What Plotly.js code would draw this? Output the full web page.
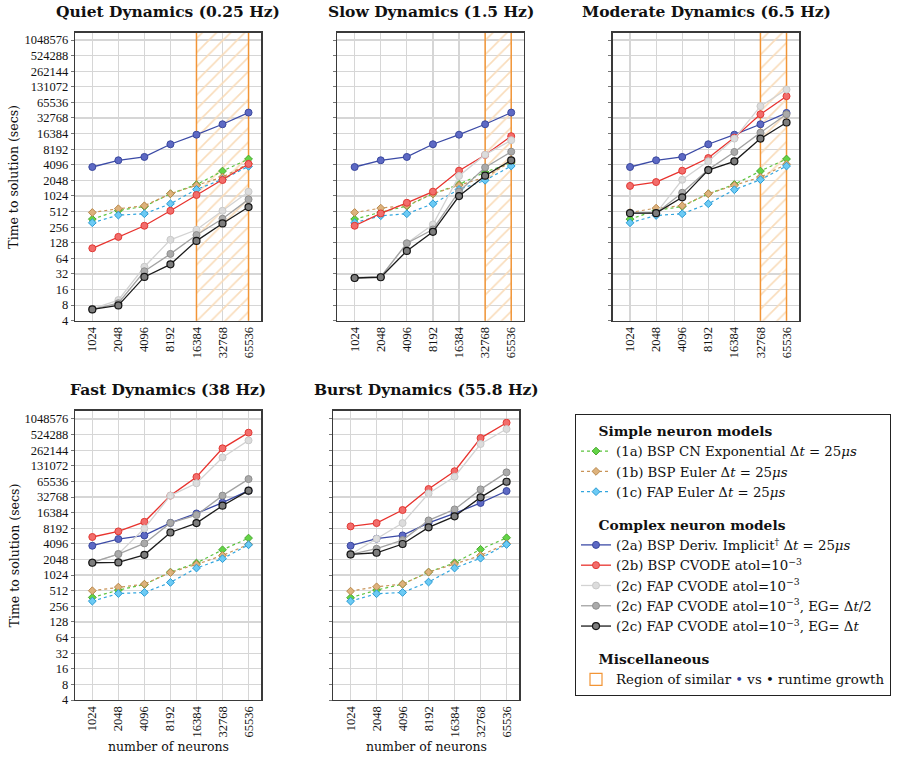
<!DOCTYPE html>
<html>
<head>
<meta charset="utf-8">
<script src="https://cdn.plot.ly/plotly-3.0.1.min.js"></script>
<style>html,body{margin:0;padding:0;background:#fff;}#chart{width:907px;height:759px;}</style>
</head>
<body>
<div id="chart"></div>
<script>
// ---------- DATA ----------
const neurons = [1024, 2048, 4096, 8192, 16384, 32768, 65536];
const neuronLabels = ["1024", "2048", "4096", "8192", "16384", "32768", "65536"];
const yTickVals = [4, 8, 16, 32, 64, 128, 256, 512, 1024, 2048, 4096, 8192, 16384, 32768, 65536, 131072, 262144, 524288, 1048576];
const panelTitles = ["Quiet Dynamics (0.25 Hz)", "Slow Dynamics (1.5 Hz)", "Moderate Dynamics (6.5 Hz)", "Fast Dynamics (38 Hz)", "Burst Dynamics (55.8 Hz)"];
const seriesNames = [
  "(1a) BSP CN Exponential Δ<i>t</i> = 25<i>μs</i>",
  "(1b) BSP Euler Δ<i>t</i> = 25<i>μs</i>",
  "(1c) FAP Euler Δ<i>t</i> = 25<i>μs</i>",
  "(2a) BSP Deriv. Implicit<sup>†</sup> Δ<i>t</i> = 25<i>μs</i>",
  "(2b) BSP CVODE atol=10<sup>−3</sup>",
  "(2c) FAP CVODE atol=10<sup>−3</sup>",
  "(2c) FAP CVODE atol=10<sup>−3</sup>, EG= Δ<i>t</i>/2",
  "(2c) FAP CVODE atol=10<sup>−3</sup>, EG= Δ<i>t</i>"
];
const groupTitles = ["Simple neuron models", "Complex neuron models", "Miscellaneous"];
const regionLabel = "Region of similar <span style='color:#2f3f9e'>•</span> vs • runtime growth";
// region of similar runtime growth per panel (start, end); null = none
const regionStart = [16384, 32768, 32768, null, null];
const regionEnd = [65536, 65536, 65536, null, null];

// Quiet Dynamics (0.25 Hz)
const quiet1a = [365, 537, 643, 1130, 1690, 3100, 5290];
const quiet1b = [491, 580, 662, 1130, 1640, 2370, 4300];
const quiet1c = [311, 437, 464, 724, 1370, 2130, 3820];
const quiet2a = [3710, 5000, 5800, 10200, 15600, 24800, 41700];
const quiet2b = [100, 166, 272, 530, 1070, 2080, 4240];
const quiet2c = [6.8, 10, 44, 146, 228, 530, 1240];
const quiet2cHalf = [6.6, 8.7, 36, 78, 180, 372, 880];
const quiet2cFull = [6.6, 7.9, 28, 49, 139, 302, 625];
// Slow Dynamics (1.5 Hz)
const slow1a = [365, 498, 652, 1130, 1710, 2960, 4480];
const slow1b = [491, 596, 671, 1130, 1640, 2370, 4640];
const slow1c = [311, 425, 464, 724, 1370, 2050, 3870];
const slow2a = [3710, 5000, 5800, 10200, 15600, 24800, 41700];
const slow2b = [272, 471, 756, 1240, 3150, 6340, 14600];
const slow2c = [27, 28, 125, 288, 2490, 6420, 12200];
const slow2cHalf = [27, 28, 125, 231, 1250, 3640, 7330];
const slow2cFull = [26.7, 27.6, 89, 208, 1020, 2520, 5000];
// Moderate Dynamics (6.5 Hz)
const mod1a = [365, 537, 643, 1130, 1710, 3100, 5290];
const mod1b = [491, 596, 662, 1130, 1640, 2370, 4200];
const mod1c = [311, 430, 464, 724, 1350, 2110, 3870];
const mod2a = [3710, 5000, 5800, 10200, 15600, 24800, 41000];
const mod2b = [1600, 1900, 3150, 5520, 13700, 38700, 86500];
const mod2c = [477, 477, 2100, 4770, 13100, 55500, 116000];
const mod2cHalf = [477, 477, 1180, 3300, 7230, 17100, 38700];
const mod2cFull = [477, 477, 962, 3240, 4770, 13100, 26800];
// Fast Dynamics (38 Hz)
const fast1a = [380, 526, 676, 1170, 1750, 3150, 5300];
const fast1b = [512, 601, 686, 1150, 1645, 2450, 4010];
const fast1c = [322, 452, 474, 740, 1400, 2120, 3930];
const fast2a = [3770, 5080, 5960, 10400, 15800, 25500, 43500];
const fast2b = [5560, 7130, 10900, 34900, 79800, 285000, 571000];
const fast2c = [1800, 2610, 8130, 34900, 60300, 190000, 405000];
const fast2cHalf = [1800, 2610, 4180, 10400, 14700, 34900, 72700];
const fast2cFull = [1770, 1800, 2520, 6790, 10300, 22300, 43500];
// Burst Dynamics (55.8 Hz)
const burst1a = [375, 526, 686, 1170, 1770, 3210, 5370];
const burst1b = [502, 609, 686, 1170, 1670, 2450, 4120];
const burst1c = [322, 448, 474, 752, 1400, 2170, 3990];
const burst2a = [3770, 5150, 5960, 10400, 15800, 25200, 42800];
const burst2b = [8900, 10300, 18400, 46700, 103000, 449000, 887000];
const burst2c = [2560, 5150, 10300, 38400, 80700, 345000, 672000];
const burst2cHalf = [2560, 3300, 4840, 11600, 18900, 46000, 98000];
const burst2cFull = [2560, 2760, 4070, 8540, 13900, 32300, 64600];

const panelData = [
  [quiet1a, quiet1b, quiet1c, quiet2a, quiet2b, quiet2c, quiet2cHalf, quiet2cFull],
  [slow1a, slow1b, slow1c, slow2a, slow2b, slow2c, slow2cHalf, slow2cFull],
  [mod1a, mod1b, mod1c, mod2a, mod2b, mod2c, mod2cHalf, mod2cFull],
  [fast1a, fast1b, fast1c, fast2a, fast2b, fast2c, fast2cHalf, fast2cFull],
  [burst1a, burst1b, burst1c, burst2a, burst2b, burst2c, burst2cHalf, burst2cFull]
];

// ---------- STYLES ----------
const FONT = "'Liberation Serif', serif";
const WIDE = "'DejaVu Serif', serif";
const styles = [
  {line: {color: "#5cc43e", width: 1.2, dash: "dot"}, marker: {symbol: "diamond", size: 6, color: "#63d447", line: {color: "#4aa830", width: 1}}, group: "simple"},
  {line: {color: "#c99458", width: 1.2, dash: "dot"}, marker: {symbol: "diamond", size: 6, color: "#ddb27c", line: {color: "#b9884c", width: 1}}, group: "simple"},
  {line: {color: "#32a6df", width: 1.2, dash: "dot"}, marker: {symbol: "diamond", size: 6, color: "#6ccaf4", line: {color: "#2a9bd4", width: 1}}, group: "simple"},
  {line: {color: "#3c4ba6", width: 1.3}, marker: {symbol: "circle", size: 7, color: "#5d69c4", line: {color: "#3a489e", width: 1}}, group: "complex"},
  {line: {color: "#e8332e", width: 1.3}, marker: {symbol: "circle", size: 7, color: "#f26d6b", line: {color: "#e23a35", width: 1}}, group: "complex"},
  {line: {color: "#d3d3d3", width: 1.3}, marker: {symbol: "circle", size: 7, color: "#dcdcdc", line: {color: "#c9c9c9", width: 1}}, group: "complex"},
  {line: {color: "#a3a3a3", width: 1.3}, marker: {symbol: "circle", size: 7, color: "#aaaaaa", line: {color: "#8e8e8e", width: 1}}, group: "complex"},
  {line: {color: "#1c1c1c", width: 1.3}, marker: {symbol: "circle", size: 7, color: "#7d7d7d", line: {color: "#141414", width: 1.2}}, group: "complex"}
];
const ORANGE = "#f29536";

const W = 907, H = 759;
const panelsPx = [
  {x0: 75, x1: 261.3, y0: 32.7, y1: 320.7, top: 20.47},
  {x0: 337.3, x1: 524, y0: 32.7, y1: 320.7, top: 20.47},
  {x0: 612.7, x1: 799.3, y0: 32.7, y1: 320.7, top: 20.47},
  {x0: 75, x1: 261.3, y0: 410.7, y1: 700, top: 20.53},
  {x0: 333.3, x1: 519.3, y0: 410.7, y1: 700, top: 20.53}
];
const NB = "\u00a0";
const indent = NB.repeat(4);

const traces = [];
const layout = {
  width: W, height: H,
  margin: {l: 0, r: 0, t: 0, b: 0},
  paper_bgcolor: "#fff", plot_bgcolor: "#fff",
  font: {family: FONT, size: 12, color: "#111"},
  showlegend: true,
  legend: {
    x: 575 / W, y: 1 - 414 / H, xanchor: "left", yanchor: "top",
    bgcolor: "#fff", bordercolor: "#222", borderwidth: 1,
    font: {family: WIDE, size: 13.3, color: "#111"},
    traceorder: "grouped", tracegroupgap: 12, itemwidth: 30,
    grouptitlefont: {family: WIDE, size: 13.5, color: "#111"}
  },
  annotations: [], shapes: []
};

panelsPx.forEach((p, i) => {
  const sfx = i === 0 ? "" : String(i + 1);
  const xa = "x" + sfx, ya = "y" + sfx;
  // region of similar growth (hatched)
  if (regionStart[i] !== null) {
    const s = regionStart[i], e = regionEnd[i];
    traces.push({
      type: "scatter", mode: "lines", xaxis: xa, yaxis: ya,
      x: [s, s, e, e, s], y: [2, Math.pow(2, 21.5), Math.pow(2, 21.5), 2, 2],
      fill: "toself", fillcolor: "rgba(255,255,255,0)",
      fillpattern: {shape: "/", fgcolor: "#f9dcba", bgcolor: "rgba(255,255,255,0)", size: 10, solidity: 0.16},
      line: {color: ORANGE, width: 1.5},
      name: regionLabel, legendgroup: "misc", showlegend: false, hoverinfo: "skip"
    });
  }
  panelData[i].forEach((vals, k) => {
    const st = styles[k];
    const t = {
      type: "scatter", mode: "lines+markers", xaxis: xa, yaxis: ya,
      x: neurons, y: vals, name: seriesNames[k],
      line: st.line, marker: st.marker,
      legendgroup: st.group, legendrank: st.group === "simple" ? 1000 : 2000,
      showlegend: i === 0, hoverinfo: "skip"
    };
    if (i === 0 && (k === 0 || k === 3)) {
      t.legendgrouptitle = {text: indent + "<b>" + groupTitles[k === 0 ? 0 : 1] + "</b>", font: {family: WIDE, size: 13.8}};
    }
    traces.push(t);
  });

  layout["xaxis" + sfx] = {
    domain: [p.x0 / W, p.x1 / W], anchor: ya,
    type: "log", range: [Math.log10(2) * 9.335, Math.log10(2) * 16.49],
    tickvals: neurons, ticktext: neuronLabels, tickangle: -90,
    tickfont: {family: FONT, size: 12.5, color: "#111"},
    showgrid: true, gridcolor: "#d6d6d6", gridwidth: 1.2,
    showline: true, linecolor: "#3a3a3a", linewidth: 1.3, mirror: true,
    ticks: "", zeroline: false, fixedrange: true
  };
  layout["yaxis" + sfx] = {
    domain: [1 - p.y1 / H, 1 - p.y0 / H], anchor: xa,
    type: "log", range: [Math.log10(4), Math.log10(2) * p.top],
    tickvals: yTickVals, ticktext: yTickVals.map(String),
    showticklabels: (i === 0 || i === 3),
    tickfont: {family: FONT, size: 12.5, color: "#111"},
    showgrid: true, gridcolor: "#d6d6d6", gridwidth: 1.2,
    showline: true, linecolor: "#3a3a3a", linewidth: 1.3, mirror: true,
    ticks: "outside", ticklen: 3, tickcolor: "#777", zeroline: false, fixedrange: true
  };
  // panel title
  layout.annotations.push({
    xref: "paper", yref: "paper", x: (p.x0 + p.x1) / 2 / W, y: 1 - (p.y0 - 21) / H,
    xanchor: "center", yanchor: "middle", showarrow: false,
    text: "<b>" + panelTitles[i] + "</b>", font: {family: WIDE, size: 15.5, color: "#111"}
  });
  if (i === 0 || i === 3) {
    layout.annotations.push({
      xref: "paper", yref: "paper", x: 14 / W, y: 1 - ((p.y0 + p.y1) / 2) / H,
      xanchor: "center", yanchor: "middle", showarrow: false, textangle: -90,
      text: "Time to solution (secs)", font: {family: WIDE, size: 12.5, color: "#111"}
    });
  }
  if (i >= 3) {
    layout.annotations.push({
      xref: "paper", yref: "paper", x: (p.x0 + p.x1) / 2 / W, y: 1 - 746 / H,
      xanchor: "center", yanchor: "middle", showarrow: false,
      text: "number of neurons", font: {family: WIDE, size: 12.5, color: "#111"}
    });
  }
});

// legend-only entry for the hatched region
traces.push({
  type: "scatter", mode: "markers", x: [null], y: [null], xaxis: "x", yaxis: "y",
  marker: {symbol: "square-open", size: 12, color: ORANGE, line: {width: 1.2, color: ORANGE}},
  name: regionLabel, legendgroup: "misc", legendrank: 3000, showlegend: true, hoverinfo: "skip",
  legendgrouptitle: {text: indent + "<b>" + groupTitles[2] + "</b>", font: {family: WIDE, size: 13.8}}
});

Plotly.newPlot("chart", traces, layout, {displayModeBar: false, staticPlot: true});
</script>
</body>
</html>
